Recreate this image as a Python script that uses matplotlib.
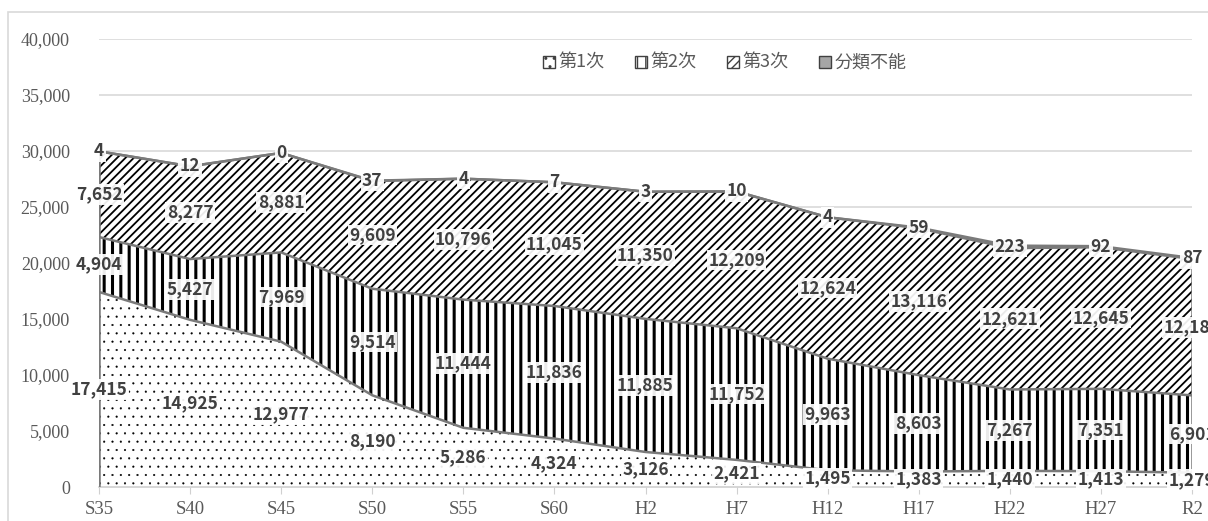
import numpy as np
import matplotlib
matplotlib.use("Agg")
import matplotlib.pyplot as plt
from matplotlib.patches import Patch, Rectangle

# 産業別就業人口（人）
years = ["S35", "S40", "S45", "S50", "S55", "S60", "H2", "H7",
         "H12", "H17", "H22", "H27", "R2"]
primary = [17415, 14925, 12977, 8190, 5286, 4324, 3126, 2421,
           1495, 1383, 1440, 1413, 1279]
secondary = [4904, 5427, 7969, 9514, 11444, 11836, 11885, 11752,
             9963, 8603, 7267, 7351, 6901]
tertiary = [7652, 8277, 8881, 9609, 10796, 11045, 11350, 12209,
            12624, 13116, 12621, 12645, 12182]
unknown = [4, 12, 0, 37, 4, 7, 3, 10, 4, 59, 223, 92, 87]
names = ["第1次", "第2次", "第3次", "分類不能"]

series = [primary, secondary, tertiary, unknown]
hatches = ["..", "||", "////", None]
hatch_lw = [0.3, 2.2, 1.3, 1.0]
faces = ["white", "white", "white", "#a6a6a6"]

label_font = ["Noto Sans CJK JP", "DejaVu Sans"]
serif_font = ["Liberation Serif", "Noto Sans CJK JP"]
gray_txt = "#595959"
edge_gray = "#7a7a7a"

fig = plt.figure(figsize=(12.08, 5.21), dpi=100)
ax = fig.add_axes([99 / 1208, 1 - 487 / 521, (1192 - 99) / 1208, 448 / 521])

x = np.arange(len(years))
base = np.zeros(len(years))
for vals, h, hl, fc in zip(series, hatches, hatch_lw, faces):
    top = base + np.array(vals)
    with plt.rc_context({"hatch.linewidth": hl}):
        ax.fill_between(x, base, top, facecolor=fc, edgecolor="black",
                        hatch=h, linewidth=0, zorder=2)
    ax.plot(x, top, color=edge_gray, lw=1.8, zorder=3, solid_capstyle="butt")
    base = top

total = base
ax.vlines([x[0], x[-1]], 0, [total[0], total[-1]], color=edge_gray, lw=1.8, zorder=3)

# data labels at the middle of each layer
base = np.zeros(len(years))
for vals in series:
    for i, v in enumerate(vals):
        ax.text(x[i], base[i] + v / 2, f"{v:,}", ha="center", va="center",
                fontsize=12.5, fontweight="bold", color="#404040",
                family=label_font, zorder=5, clip_on=False,
                bbox=dict(boxstyle="square,pad=0.08", fc="white", ec="none", alpha=0.92))
    base = base + np.array(vals)

ax.set_xlim(0, len(years) - 1)
ax.set_ylim(0, 40000)
ax.set_yticks(np.arange(0, 40001, 5000))
ax.set_yticklabels([f"{v:,}" for v in range(0, 40001, 5000)])
ax.set_xticks(x)
ax.set_xticklabels(years)
ax.grid(axis="y", color="#d9d9d9", lw=1.2, zorder=0)
ax.set_axisbelow(True)
for s in ["top", "right", "left"]:
    ax.spines[s].set_visible(False)
ax.spines["bottom"].set_color("#d0d0d0")
ax.spines["bottom"].set_linewidth(1.2)
ax.tick_params(axis="y", length=0, pad=21, labelsize=13, labelcolor=gray_txt)
ax.tick_params(axis="x", length=5, color="#d0d0d0", pad=5, labelsize=13.5,
               labelcolor=gray_txt)
for t in ax.get_xticklabels() + ax.get_yticklabels():
    t.set_family(serif_font)

handles = []
for h, fc in zip(hatches, faces):
    with plt.rc_context({"hatch.linewidth": 0.6}):
        handles.append(Patch(facecolor=fc, edgecolor="#404040", hatch=h, linewidth=1.0))
leg = fig.legend(handles, names, loc="center", bbox_to_anchor=(725 / 1208, 1 - 63 / 521),
                 ncol=4, frameon=False, handlelength=0.65, handleheight=0.65,
                 handletextpad=0.2, columnspacing=1.7,
                 prop={"family": label_font, "size": 13})
for t in leg.get_texts():
    t.set_color(gray_txt)

# outer chart frame
fig.patches.append(Rectangle((8 / 1208, -0.05), 1.2, 1 - 12 / 521 + 0.05,
                             transform=fig.transFigure, fill=False,
                             ec="#d9d9d9", lw=1.2, zorder=0))

fig.savefig("out.png", dpi=100)
